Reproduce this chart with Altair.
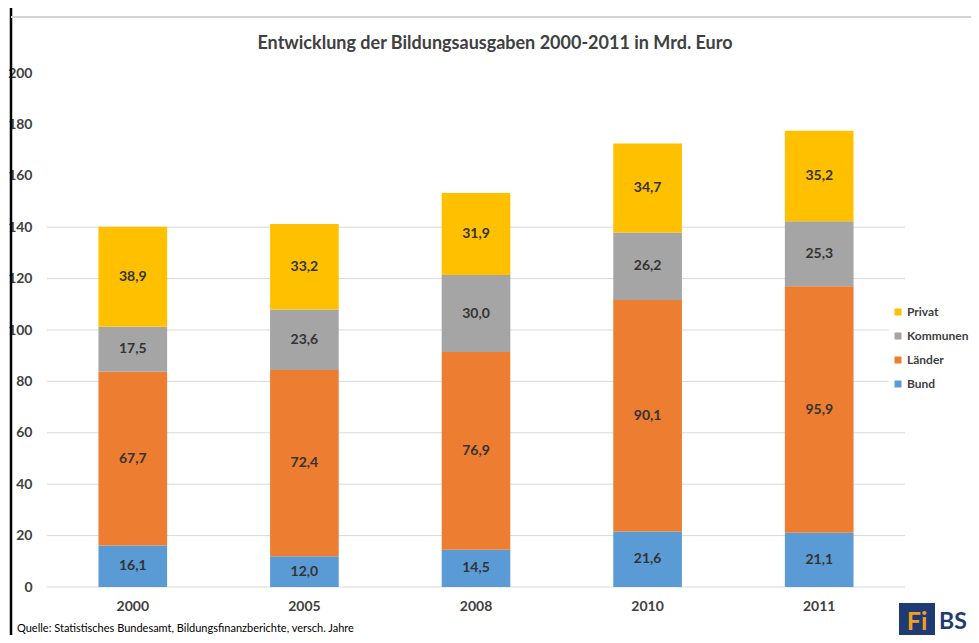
import altair as alt
import pandas as pd

years = ["2000", "2005", "2008", "2010", "2011"]
series = ["Bund", "Länder", "Kommunen", "Privat"]
bund = [16.1, 12.0, 14.5, 21.6, 21.1]
laender = [67.7, 72.4, 76.9, 90.1, 95.9]
kommunen = [17.5, 23.6, 30.0, 26.2, 25.3]
privat = [38.9, 33.2, 31.9, 34.7, 35.2]
legend_order = ["Privat", "Kommunen", "Länder", "Bund"]
legend_colors = ["#FFC000", "#A5A5A5", "#ED7D31", "#5B9BD5"]
y_ticks = [0, 20, 40, 60, 80, 100, 120, 140, 160, 180, 200]
grid_values = [0, 20, 40, 60, 80, 100, 120, 140]

title_text = "Entwicklung der Bildungsausgaben 2000-2011 in Mrd. Euro"
source_text = "Quelle:  Statistisches Bundesamt, Bildungsfinanzberichte, versch. Jahre"

FONT = "Lato"
TXT = "#404040"

rows = []
for i, yr in enumerate(years):
    for k, (s, vals) in enumerate(zip(series, [bund, laender, kommunen, privat])):
        rows.append({"Jahr": yr, "Bereich": s, "Wert": vals[i], "Ordnung": k})
df = pd.DataFrame(rows)

yscale = alt.Scale(domain=[0, 200], nice=False)
yaxis = alt.Axis(title=None, values=y_ticks, grid=False, domain=False, ticks=False,
                 labelPadding=15, labelFont=FONT, labelFontSize=14, labelFontWeight="bold",
                 labelColor=TXT)
xscale = alt.Scale(domain=years, paddingInner=0.6, paddingOuter=0.3)
xaxis = alt.Axis(title=None, labelAngle=0, ticks=False, domain=False, labelPadding=12,
                 labelFont=FONT, labelFontSize=14, labelFontWeight="bold", labelColor=TXT)

base = alt.Chart(df).transform_stack(
    stack="Wert", groupby=["Jahr"], sort=[alt.SortField("Ordnung")], as_=["y0", "y1"]
).transform_calculate(
    mid="(datum.y0 + datum.y1) / 2",
    label="replace(format(datum.Wert, '.1f'), '.', ',')"
)

grid = alt.Chart(pd.DataFrame({"v": grid_values})).mark_rule(
    color="#D9D9D9", strokeWidth=1
).encode(
    y=alt.Y("v:Q", scale=yscale, axis=yaxis),
    x=alt.value(0), x2=alt.value(858)
)

bars = base.mark_bar().encode(
    x=alt.X("Jahr:N", scale=xscale, axis=xaxis),
    y=alt.Y("y0:Q", scale=yscale, axis=yaxis),
    y2="y1:Q",
    color=alt.Color("Bereich:N", scale=alt.Scale(domain=legend_order, range=legend_colors),
                    legend=alt.Legend(title=None, orient="none", legendX=842, legendY=230,
                                      padding=3, fillColor="white", symbolType="square",
                                      symbolSize=49, symbolStrokeWidth=0, labelFont=FONT,
                                      labelFontSize=12, labelFontWeight="bold",
                                      labelColor=TXT, rowPadding=12, labelOffset=3,
                                      labelLimit=200)),
)

labels = base.mark_text(font=FONT, fontSize=14, fontWeight="bold", color="#333333").encode(
    x=alt.X("Jahr:N", scale=xscale, axis=xaxis),
    y=alt.Y("mid:Q", scale=yscale, axis=yaxis),
    text="label:N"
)

one = pd.DataFrame({"a": [0]})
title = alt.Chart(one).mark_text(align="center", baseline="alphabetic", font=FONT,
                                 fontSize=18, fontWeight="bold", color=TXT).encode(
    x=alt.value(448), y=alt.value(-24), text=alt.value(title_text))
left_line = alt.Chart(one).mark_rule(color="black", strokeWidth=2.5).encode(
    x=alt.value(-36), y=alt.value(-65), y2=alt.value(562))
top_line = alt.Chart(one).mark_rule(color="#D4D4D4", strokeWidth=2).encode(
    y=alt.value(-56), x=alt.value(-36), x2=alt.value(930))
source = alt.Chart(one).mark_text(align="left", baseline="alphabetic", font=FONT,
                                  fontSize=11, color="black").encode(
    x=alt.value(-30), y=alt.value(559), text=alt.value(source_text))
logo_box = alt.Chart(one).mark_rect(color="#1F3B73").encode(
    x=alt.value(852), x2=alt.value(888), y=alt.value(530), y2=alt.value(562))
logo_fi = alt.Chart(one).mark_text(align="center", baseline="alphabetic", font=FONT,
                                   fontSize=25, fontWeight="bold", color="#F29F1F").encode(
    x=alt.value(870), y=alt.value(557), text=alt.value("Fi"))
logo_bs = alt.Chart(one).mark_text(align="left", baseline="alphabetic", font=FONT,
                                   fontSize=23, fontWeight="bold", color="#1F3B73").encode(
    x=alt.value(892), y=alt.value(556), text=alt.value("BS"))

chart = alt.layer(grid, bars, labels, title, left_line, top_line, source,
                  logo_box, logo_fi, logo_bs).properties(
    width=858, height=514,
    background="white",
    autosize=alt.AutoSizeParams(type="none"),
    padding={"left": 39, "top": 65, "right": 66, "bottom": 48},
).configure_view(stroke=None)

chart.save("out.html", embed_options={"renderer": "svg", "actions": False})
